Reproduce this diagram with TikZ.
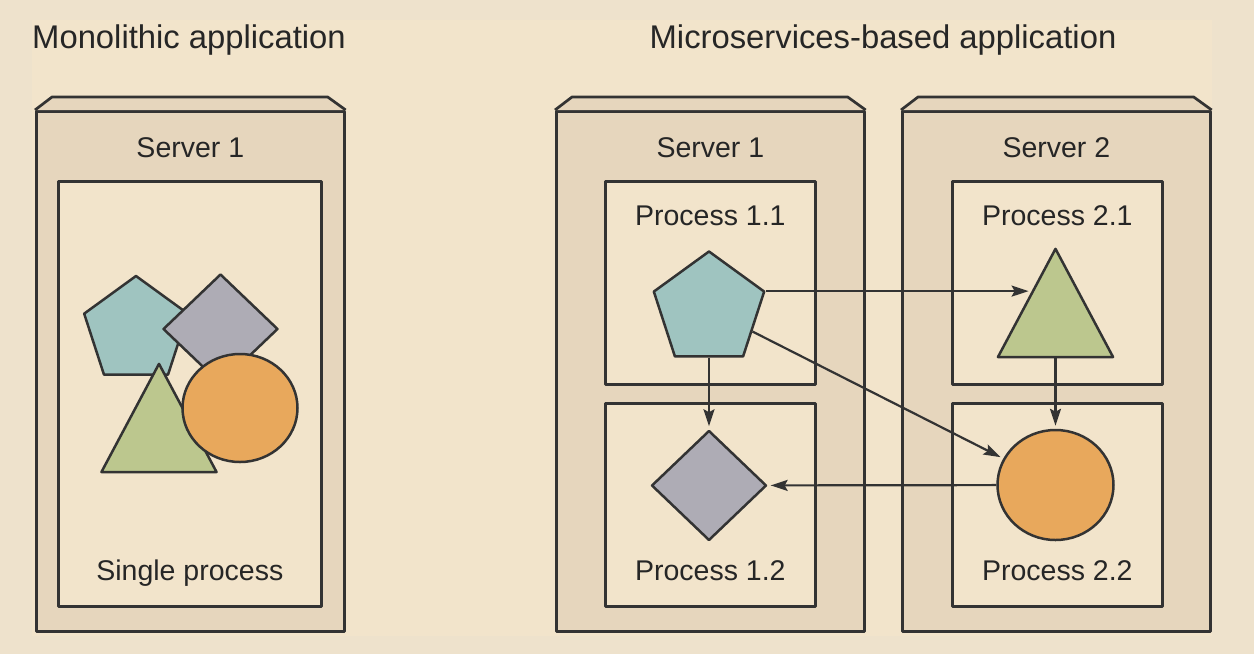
\documentclass[tikz,border=0pt]{standalone}
\usepackage{fontspec}
\setmainfont{Liberation Sans}
\usetikzlibrary{shapes.geometric,arrows.meta,calc}

\definecolor{pagebg}{HTML}{EEE2CC}
\definecolor{panelbg}{HTML}{F2E4CB}
\definecolor{serverfill}{HTML}{E6D6BD}
\definecolor{procfill}{HTML}{F2E4CB}
\definecolor{lineclr}{HTML}{333333}
\definecolor{textclr}{HTML}{262626}
\definecolor{pentfill}{HTML}{9FC4C0}
\definecolor{diamfill}{HTML}{AEACB5}
\definecolor{trifill}{HTML}{BCC78E}
\definecolor{circfill}{HTML}{E8A85C}

\newcommand\ttlfont{\fontsize{32.8pt}{38pt}\selectfont}
\newcommand\lblfont{\fontsize{28.5pt}{33pt}\selectfont}

\begin{document}
\begin{tikzpicture}[x=1pt,y=-1pt,
  outline/.style={draw=lineclr, line width=2.7pt, line join=round},
  serverbox/.style={outline, fill=serverfill, minimum width=308pt,
    minimum height=520pt, inner sep=0pt, anchor=north west},
  procbox/.style={outline, fill=procfill, minimum width=210pt,
    minimum height=203pt, inner sep=0pt, anchor=north west},
  ttl/.style={text=textclr, font=\ttlfont, anchor=base, inner sep=0pt},
  lbl/.style={text=textclr, font=\lblfont, anchor=base, inner sep=0pt},
  shapebase/.style={draw=lineclr, line width=2.5pt, line join=round, inner sep=0pt},
  pent/.style={shapebase, fill=pentfill, regular polygon, regular polygon sides=5},
  diam/.style={shapebase, fill=diamfill, diamond, minimum width=115pt, minimum height=110pt},
  tri/.style={shapebase, fill=trifill, regular polygon, regular polygon sides=3,
    minimum size=133pt, yscale=1.085, transform shape},
  circ/.style={shapebase, fill=circfill, ellipse},
  flow/.style={draw=lineclr, line width=2.2pt, shorten >=3pt,
    -{Stealth[length=17pt,width=11pt,inset=3pt]}}
]
% page and panel
\fill[pagebg] (0,0) rectangle (1254,654);
\fill[panelbg] (32,20) rectangle (1212,636);

% titles
\node[ttl, anchor=base west] (ttlmono) at (32,48) {Monolithic application};
\node[ttl] (ttlmicro) at (883,48) {Microservices-based application};

% server cabinets with a bevelled top
\foreach \nm/\xx in {srvL/35, srvA/555, srvB/901} {
  \node[serverbox] (\nm) at (\xx,110) {};
  \draw[outline, fill=serverfill] (\nm.north west) -- ++(17,-13)
    -- ($(\nm.north east)+(-18,-13)$) -- (\nm.north east);
}
\node[lbl] (srvLlbl) at (srvL.north |- 0,157) {Server 1};
\node[lbl] (srvAlbl) at (srvA.north |- 0,157) {Server 1};
\node[lbl] (srvBlbl) at (srvB.north |- 0,157) {Server 2};

% process boxes
\node[procbox, minimum width=263pt, minimum height=425pt] (procL) at (57,180) {};
\node[procbox] (proc11) at (604,180) {};
\node[procbox] (proc12) at (604,402) {};
\node[procbox] (proc21) at (951,180) {};
\node[procbox] (proc22) at (951,402) {};

\node[lbl] (procLlbl) at (procL.north |- 0,580) {Single process};
\node[lbl] (proc11lbl) at (proc11.north |- 0,225) {Process 1.1};
\node[lbl] (proc12lbl) at (proc12.north |- 0,580) {Process 1.2};
\node[lbl] (proc21lbl) at (proc21.north |- 0,225) {Process 2.1};
\node[lbl] (proc22lbl) at (proc22.north |- 0,580) {Process 2.2};

% monolith: all components in one process
\node[pent, minimum size=109pt] (pL) at (136,330.5) {};
\node[diam] (dL) at (220.5,329) {};
\node[tri] (tL) at (159,436) {};
\node[circ, minimum width=115pt, minimum height=108pt] (cL) at (240,408) {};

% microservices: one component per process
\node[pent, minimum size=116pt] (p11) at (709,309.5) {};
\node[diam] (d12) at (709,485.5) {};
\node[tri] (t21) at (1055.5,321) {};
\node[circ, minimum width=116pt, minimum height=110pt] (c22) at (1055.5,485) {};

\coordinate (t21edge) at ($(t21.corner 1)!0.4!(t21.corner 2)$);

% calls between services
\draw[flow] (p11.corner 5) -- (p11.corner 5 -| t21edge);
\draw[flow] (p11) -- (c22);
\draw[flow] (p11) -- (d12);
\draw[flow] (t21) -- (c22);
\draw[flow] (c22) -- (d12);
\end{tikzpicture}
\end{document}
